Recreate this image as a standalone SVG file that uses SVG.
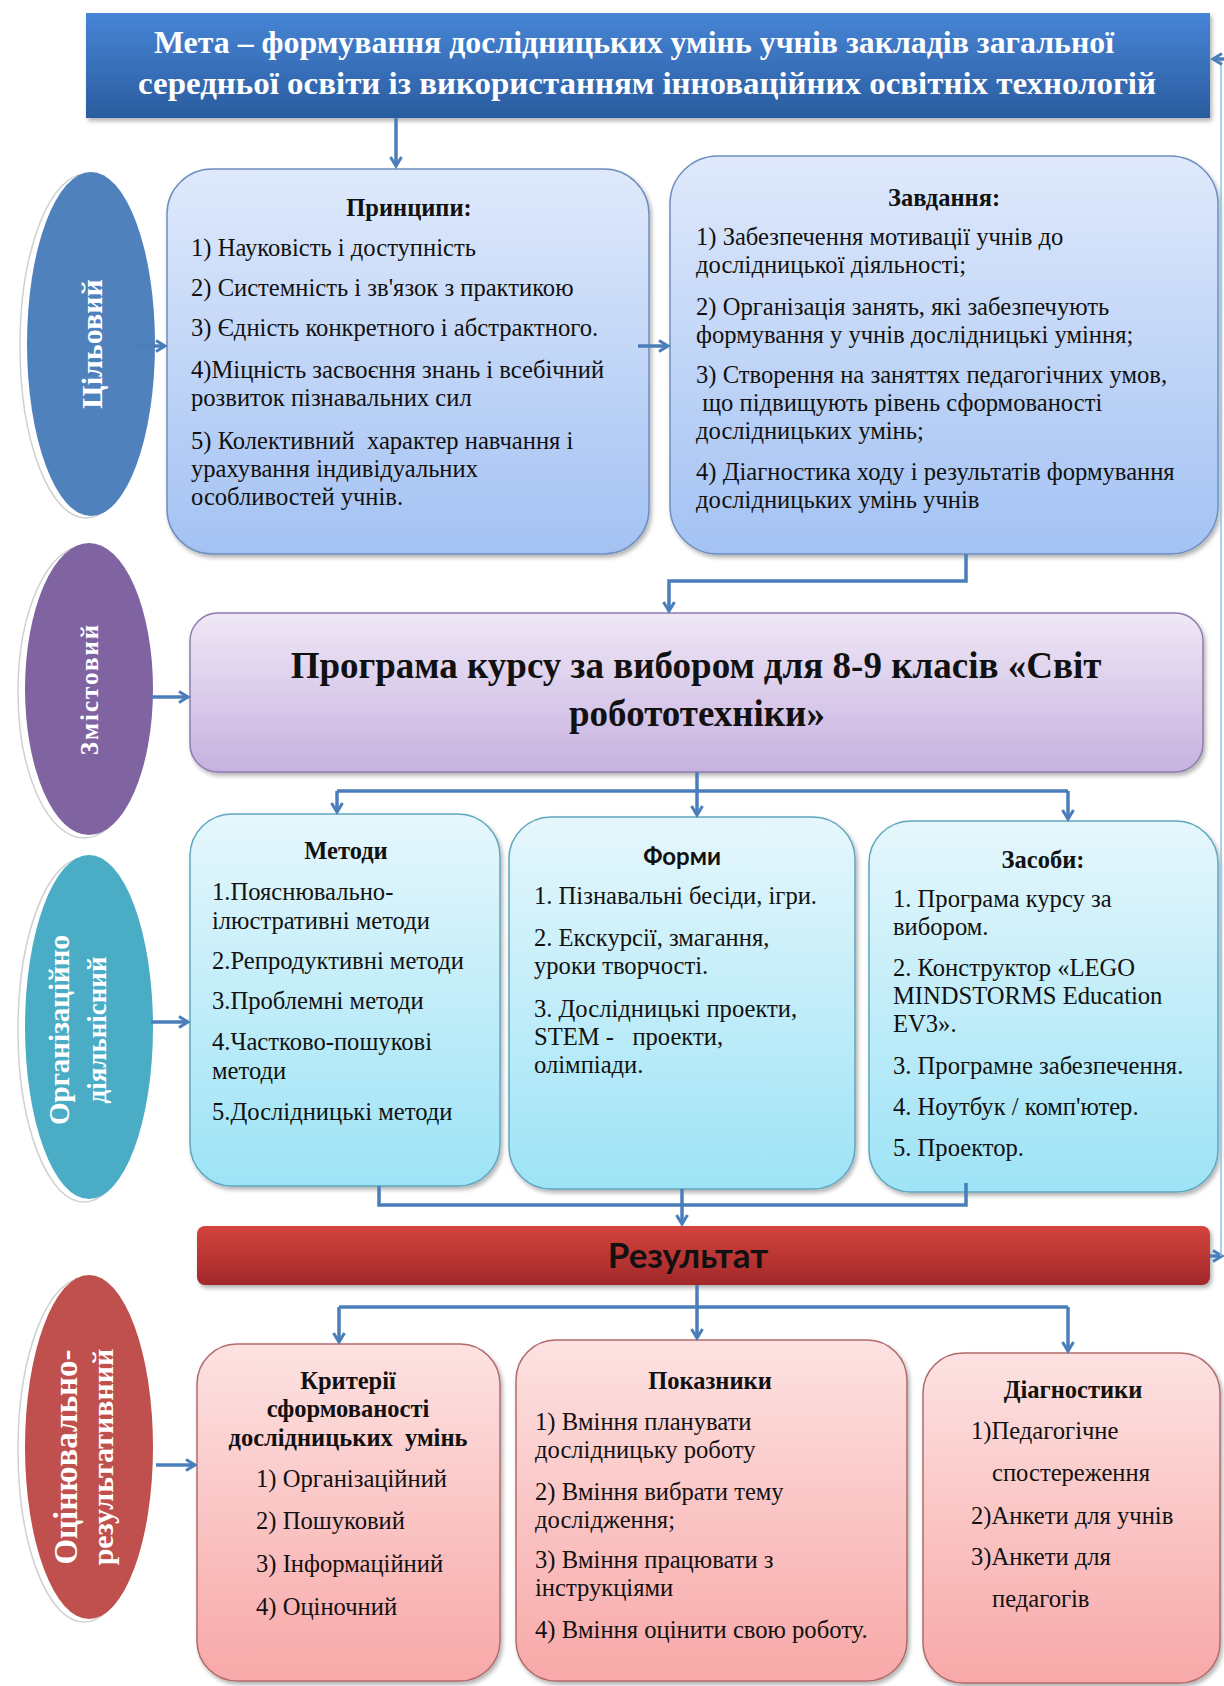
<svg xmlns="http://www.w3.org/2000/svg" width="1224" height="1686" viewBox="0 0 1224 1686">
<style>
.t{font-family:"Liberation Serif","Times New Roman",serif;font-size:24.6px;fill:#111}
.tb{font-family:"Liberation Serif","Times New Roman",serif;font-size:24.5px;font-weight:bold;fill:#111}
.big{font-size:37px}
.ts{font-family:Lato,"Liberation Sans",sans-serif;font-weight:bold;fill:#111}
.et{font-family:"Liberation Serif","Times New Roman",serif;font-weight:bold;fill:#fff}
.c{fill:none;stroke:#4a7ebb;stroke-width:3.5}
.box{stroke-width:1.5}
</style>
<defs>
<linearGradient id="gMeta" x1="0" y1="0" x2="0" y2="1"><stop offset="0" stop-color="#4785d6"/><stop offset="1" stop-color="#2a5c9f"/></linearGradient>
<linearGradient id="gBlue" x1="0" y1="0" x2="0" y2="1"><stop offset="0" stop-color="#dfe9fb"/><stop offset="1" stop-color="#a3c2f3"/></linearGradient>
<linearGradient id="gPurp" x1="0" y1="0" x2="0" y2="1"><stop offset="0" stop-color="#efe8f6"/><stop offset="1" stop-color="#c7b1e0"/></linearGradient>
<linearGradient id="gCyan" x1="0" y1="0" x2="0" y2="1"><stop offset="0" stop-color="#e6f7fc"/><stop offset="1" stop-color="#9de3f6"/></linearGradient>
<linearGradient id="gRed" x1="0" y1="0" x2="0" y2="1"><stop offset="0" stop-color="#d4443d"/><stop offset="1" stop-color="#a2282a"/></linearGradient>
<linearGradient id="gPink" x1="0" y1="0" x2="0" y2="1"><stop offset="0" stop-color="#fde2e2"/><stop offset="1" stop-color="#f8a8a8"/></linearGradient>
<filter id="sh" x="-10%" y="-10%" width="120%" height="130%"><feDropShadow dx="2" dy="3" stdDeviation="2" flood-color="#000" flood-opacity="0.3"/></filter>
<marker id="ah" viewBox="0 0 14 14" refX="11" refY="7" markerWidth="14" markerHeight="14" markerUnits="userSpaceOnUse" orient="auto"><path d="M2,1.5 L11,7 L2,12.5" fill="none" stroke="#4a7ebb" stroke-width="3"/></marker>
</defs>
<rect width="1224" height="1686" fill="#fff"/>

<g id="meta">
<rect x="86" y="13" width="1124" height="105" fill="url(#gMeta)" filter="url(#sh)"/>
<text class="et" x="634" y="53" font-size="31" text-anchor="middle" textLength="960" lengthAdjust="spacingAndGlyphs">Мета – формування дослідницьких умінь учнів закладів загальної</text>
<text class="et" x="647" y="94" font-size="31" text-anchor="middle" textLength="1018" lengthAdjust="spacingAndGlyphs">середньої освіти із використанням інноваційних освітніх технологій</text>
</g>

<g id="e-tsil">
<ellipse cx="86" cy="346" rx="66" ry="172" fill="#fff" stroke="#d0d0d0" stroke-width="1.5"/>
<ellipse cx="91" cy="344" rx="64" ry="172" fill="#4f81bd"/>
<text class="et" font-size="30" text-anchor="middle" dominant-baseline="central" transform="translate(91,344) rotate(-90)">Цільовий</text>
</g>
<g id="e-zmist">
<ellipse cx="84" cy="692" rx="66" ry="146" fill="#fff" stroke="#d0d0d0" stroke-width="1.5"/>
<ellipse cx="89" cy="689" rx="64" ry="146" fill="#8064a2"/>
<text class="et" font-size="25" letter-spacing="2" text-anchor="middle" dominant-baseline="central" transform="translate(89,689) rotate(-90)">Змістовий</text>
</g>
<g id="e-org">
<ellipse cx="84" cy="1030" rx="66" ry="172" fill="#fff" stroke="#d0d0d0" stroke-width="1.5"/>
<ellipse cx="89" cy="1027" rx="64" ry="172" fill="#4bacc6"/>
<g transform="translate(78,1030) rotate(-90)">
<text class="et" font-size="29" text-anchor="middle" dominant-baseline="central" y="-19">Організаційно</text>
<text class="et" font-size="27" text-anchor="middle" dominant-baseline="central" y="19">діяльнісний</text>
</g>
</g>
<g id="e-otsin">
<ellipse cx="84" cy="1450" rx="66" ry="172" fill="#fff" stroke="#d0d0d0" stroke-width="1.5"/>
<ellipse cx="89" cy="1447" rx="64" ry="172" fill="#c0504d"/>
<g transform="translate(84,1457) rotate(-90)">
<text class="et" font-size="33" text-anchor="middle" dominant-baseline="central" y="-18">Оцінювально-</text>
<text class="et" font-size="30" text-anchor="middle" dominant-baseline="central" y="18">результативний</text>
</g>
</g>

<g id="pryntsypy">
<rect class="box" x="167" y="169" width="482" height="385" rx="45" fill="url(#gBlue)" stroke="#6f8fbf" filter="url(#sh)"/>
<text class="tb" x="409" y="216" text-anchor="middle">Принципи:</text>
<text class="t" x="191" y="256">1) Науковість і доступність</text>
<text class="t" x="191" y="296">2) Системність і зв'язок з практикою</text>
<text class="t" x="191" y="336">3) Єдність конкретного і абстрактного.</text>
<text class="t" x="191" y="378">4)Міцність засвоєння знань і всебічний</text>
<text class="t" x="191" y="406">розвиток пізнавальних сил</text>
<text class="t" x="191" y="449" xml:space="preserve">5) Колективний  характер навчання і</text>
<text class="t" x="191" y="477">урахування індивідуальних</text>
<text class="t" x="191" y="505">особливостей учнів.</text>
</g>

<g id="zavdannya">
<rect class="box" x="670" y="156" width="548" height="398" rx="48" fill="url(#gBlue)" stroke="#6f8fbf" filter="url(#sh)"/>
<text class="tb" x="944" y="206" text-anchor="middle">Завдання:</text>
<text class="t" x="696" y="245">1) Забезпечення мотивації учнів до</text>
<text class="t" x="696" y="273">дослідницької діяльності;</text>
<text class="t" x="696" y="315">2) Організація занять, які забезпечують</text>
<text class="t" x="696" y="343">формування у учнів дослідницькі уміння;</text>
<text class="t" x="696" y="383">3) Створення на заняттях педагогічних умов,</text>
<text class="t" x="696" y="411" xml:space="preserve"> що підвищують рівень сформованості</text>
<text class="t" x="696" y="439">дослідницьких умінь;</text>
<text class="t" x="696" y="480">4) Діагностика ходу і результатів формування</text>
<text class="t" x="696" y="508">дослідницьких умінь учнів</text>
</g>

<g id="programa">
<rect class="box" x="190" y="613" width="1013" height="159" rx="28" fill="url(#gPurp)" stroke="#8e7cac" filter="url(#sh)"/>
<text class="tb big" x="696" y="678" text-anchor="middle">Програма курсу за вибором для 8-9 класів «Світ</text>
<text class="tb big" x="697" y="726" text-anchor="middle">робототехніки»</text>
</g>

<g id="metody">
<rect class="box" x="190" y="814" width="310" height="372" rx="42" fill="url(#gCyan)" stroke="#5fa7bf" filter="url(#sh)"/>
<text class="tb" x="346" y="859" text-anchor="middle">Методи</text>
<text class="t" x="212" y="900">1.Пояснювально-</text>
<text class="t" x="212" y="929">ілюстративні методи</text>
<text class="t" x="212" y="969">2.Репродуктивні методи</text>
<text class="t" x="212" y="1009">3.Проблемні методи</text>
<text class="t" x="212" y="1050">4.Частково-пошукові</text>
<text class="t" x="212" y="1079">методи</text>
<text class="t" x="212" y="1120">5.Дослідницькі методи</text>
</g>

<g id="formy">
<rect class="box" x="509" y="817" width="346" height="372" rx="42" fill="url(#gCyan)" stroke="#5fa7bf" filter="url(#sh)"/>
<text class="ts" x="682" y="865" font-size="24" text-anchor="middle">Форми</text>
<text class="t" x="534" y="904">1. Пізнавальні бесіди, ігри.</text>
<text class="t" x="534" y="946">2. Екскурсії, змагання,</text>
<text class="t" x="534" y="974">уроки творчості.</text>
<text class="t" x="534" y="1017">3. Дослідницькі проекти,</text>
<text class="t" x="534" y="1045" xml:space="preserve">STEM -   проекти,</text>
<text class="t" x="534" y="1073">олімпіади.</text>
</g>

<g id="zasoby">
<rect class="box" x="869" y="821" width="349" height="371" rx="42" fill="url(#gCyan)" stroke="#5fa7bf" filter="url(#sh)"/>
<text class="tb" x="1043" y="868" text-anchor="middle">Засоби:</text>
<text class="t" x="893" y="907">1. Програма курсу за</text>
<text class="t" x="893" y="935">вибором.</text>
<text class="t" x="893" y="976">2. Конструктор «LEGO</text>
<text class="t" x="893" y="1004">MINDSTORMS Education</text>
<text class="t" x="893" y="1032">EV3».</text>
<text class="t" x="893" y="1074">3. Програмне забезпечення.</text>
<text class="t" x="893" y="1115">4. Ноутбук / комп'ютер.</text>
<text class="t" x="893" y="1156">5. Проектор.</text>
</g>

<g id="rezultat">
<rect x="197" y="1226" width="1013" height="59" rx="8" fill="url(#gRed)" filter="url(#sh)"/>
<text class="ts" x="688" y="1268" font-size="35" text-anchor="middle">Результат</text>
</g>

<g id="kryterii">
<rect class="box" x="197" y="1344" width="303" height="337" rx="40" fill="url(#gPink)" stroke="#b06b6b" filter="url(#sh)"/>
<text class="tb" x="348" y="1389" text-anchor="middle">Критерії</text>
<text class="tb" x="348" y="1417" text-anchor="middle">сформованості</text>
<text class="tb" x="348" y="1446" text-anchor="middle" xml:space="preserve">дослідницьких  умінь</text>
<text class="t" x="256" y="1487">1) Організаційний</text>
<text class="t" x="256" y="1529">2) Пошуковий</text>
<text class="t" x="256" y="1572">3) Інформаційний</text>
<text class="t" x="256" y="1615">4) Оціночний</text>
</g>

<g id="pokaznyky">
<rect class="box" x="516" y="1340" width="391" height="341" rx="40" fill="url(#gPink)" stroke="#b06b6b" filter="url(#sh)"/>
<text class="tb" x="710" y="1389" text-anchor="middle">Показники</text>
<text class="t" x="535" y="1430">1) Вміння планувати</text>
<text class="t" x="535" y="1458">дослідницьку роботу</text>
<text class="t" x="535" y="1500">2) Вміння вибрати тему</text>
<text class="t" x="535" y="1528">дослідження;</text>
<text class="t" x="535" y="1568">3) Вміння працювати з</text>
<text class="t" x="535" y="1596">інструкціями</text>
<text class="t" x="535" y="1638">4) Вміння оцінити свою роботу.</text>
</g>

<g id="diagnostyky">
<rect class="box" x="923" y="1353" width="297" height="330" rx="40" fill="url(#gPink)" stroke="#b06b6b" filter="url(#sh)"/>
<text class="tb" x="1073" y="1398" text-anchor="middle">Діагностики</text>
<text class="t" x="971" y="1439">1)Педагогічне</text>
<text class="t" x="992" y="1481">спостереження</text>
<text class="t" x="971" y="1524">2)Анкети для учнів</text>
<text class="t" x="971" y="1565">3)Анкети для</text>
<text class="t" x="992" y="1607">педагогів</text>
</g>

<g id="connectors">
<path class="c" d="M396,118 V166" marker-end="url(#ah)"/>
<path class="c" d="M134,346 H165" marker-end="url(#ah)"/>
<path class="c" d="M638,346 H668" marker-end="url(#ah)"/>
<path class="c" d="M966,554 V581 H669 V611" marker-end="url(#ah)"/>
<path class="c" d="M151,697 H188" marker-end="url(#ah)"/>
<path class="c" d="M697,772 V815" marker-end="url(#ah)"/>
<path class="c" d="M337,791 H1068"/>
<path class="c" d="M337,791 V812" marker-end="url(#ah)"/>
<path class="c" d="M1068,791 V819" marker-end="url(#ah)"/>
<path class="c" d="M151,1022 H188" marker-end="url(#ah)"/>
<path class="c" d="M379,1186 V1205 H966 V1183"/>
<path class="c" d="M682,1189 V1224" marker-end="url(#ah)"/>
<path class="c" d="M1210,1256 H1222" marker-end="url(#ah)"/>
<path d="M1221,59 V1256" fill="none" stroke="#8cc4e6" stroke-width="1.5"/>
<path class="c" d="M1224,59 H1213" marker-end="url(#ah)"/>
<path class="c" d="M697,1285 V1338" marker-end="url(#ah)"/>
<path class="c" d="M339,1307 H1068"/>
<path class="c" d="M339,1307 V1342" marker-end="url(#ah)"/>
<path class="c" d="M1068,1307 V1351" marker-end="url(#ah)"/>
<path class="c" d="M156,1465 H195" marker-end="url(#ah)"/>
</g>
</svg>
